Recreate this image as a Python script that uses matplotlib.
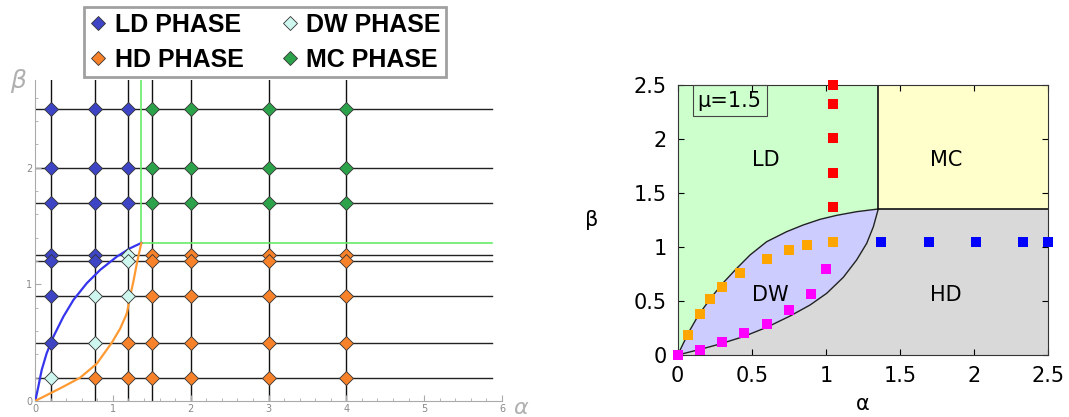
import matplotlib
matplotlib.use('Agg')
import matplotlib.pyplot as plt
from matplotlib.lines import Line2D

plt.rcParams['font.family'] = 'DejaVu Sans'

# ---- left panel: simulation grid ----
alphas = [0.2, 0.77, 1.2, 1.5, 2, 3, 4]
betas = [2.5, 2.0, 1.7, 1.25, 1.2, 0.9, 0.5, 0.2]
# phase of each grid point, one row per beta
phases = [
    ['LD', 'LD', 'LD', 'MC', 'MC', 'MC', 'MC'],
    ['LD', 'LD', 'LD', 'MC', 'MC', 'MC', 'MC'],
    ['LD', 'LD', 'LD', 'MC', 'MC', 'MC', 'MC'],
    ['LD', 'LD', 'DW', 'HD', 'HD', 'HD', 'HD'],
    ['LD', 'LD', 'DW', 'HD', 'HD', 'HD', 'HD'],
    ['LD', 'DW', 'DW', 'HD', 'HD', 'HD', 'HD'],
    ['LD', 'DW', 'HD', 'HD', 'HD', 'HD', 'HD'],
    ['DW', 'HD', 'HD', 'HD', 'HD', 'HD', 'HD'],
]
phase_colors = {'LD': '#3d45c4', 'DW': '#cdf7ef', 'HD': '#f7822a', 'MC': '#2ca24a'}

blue_x = [0, 0.013, 0.043, 0.086, 0.15, 0.236, 0.365, 0.494, 0.665, 0.837, 1.052, 1.223, 1.366]
blue_y = [0, 0.03, 0.123, 0.266, 0.409, 0.551, 0.723, 0.866, 1.009, 1.123, 1.237, 1.309, 1.354]
orange_x = [0, 0.15, 0.365, 0.58, 0.794, 0.987, 1.094, 1.18, 1.223, 1.266, 1.309, 1.366]
orange_y = [0, 0.05, 0.123, 0.2, 0.32, 0.5, 0.62, 0.75, 0.9, 1.03, 1.18, 1.354]
triple_a, triple_b = 1.366, 1.354

# ---- right panel: mean-field phase diagram (mu = 1.5) ----
up_x = [0, 0.038, 0.083, 0.128, 0.173, 0.24, 0.308, 0.398, 0.488, 0.6, 0.735, 0.847, 0.96, 1.072, 1.207, 1.353]
up_y = [0, 0.108, 0.232, 0.34, 0.432, 0.556, 0.67, 0.802, 0.926, 1.049, 1.142, 1.204, 1.256, 1.293, 1.327, 1.352]
lo_x = [0, 0.151, 0.286, 0.443, 0.6, 0.758, 0.893, 1.005, 1.117, 1.207, 1.275, 1.32, 1.353]
lo_y = [0, 0.052, 0.102, 0.17, 0.256, 0.361, 0.463, 0.571, 0.719, 0.88, 1.034, 1.188, 1.352]
tp = 1.352

orange_sq_x = [0.067, 0.15, 0.22, 0.30, 0.42, 0.60, 0.75, 0.87, 1.048]
orange_sq_y = [0.185, 0.38, 0.515, 0.63, 0.756, 0.886, 0.97, 1.02, 1.046]
mag_sq_x = [0, 0.15, 0.30, 0.45, 0.60, 0.75, 0.90, 1.0]
mag_sq_y = [0, 0.05, 0.12, 0.20, 0.29, 0.417, 0.568, 0.796]
red_sq_x = [1.048, 1.048, 1.048, 1.048, 1.048]
red_sq_y = [1.37, 1.685, 2.006, 2.327, 2.5]
blue_sq_x = [1.371, 1.693, 2.01, 2.33, 2.5]
blue_sq_y = [1.046, 1.046, 1.046, 1.046, 1.046]

W, H = 1069, 417
fig = plt.figure(figsize=(W / 100, H / 100), dpi=100)

# ================= left =================
ax1 = fig.add_axes([35 / W, 16 / H, 467 / W, 321 / H])
ax1.set_xlim(0, 6)
ax1.set_ylim(0, 2.75)
for b in betas:
    ax1.plot([0, 5.87], [b, b], color='#222222', lw=1, zorder=1)
for a in alphas:
    ax1.plot([a, a], [0, 2.75], color='#111111', lw=1, zorder=1)
ax1.plot([triple_a, triple_a], [triple_b, 2.75], color='#66ee66', lw=1.2, zorder=2)
ax1.plot([triple_a, 5.87], [triple_b, triple_b], color='#66ee66', lw=1.2, zorder=2)
ax1.plot(blue_x, blue_y, color='#3535ee', lw=1.6, zorder=3)
ax1.plot(orange_x, orange_y, color='#ff9a33', lw=1.6, zorder=3)
for i, b in enumerate(betas):
    for j, a in enumerate(alphas):
        ax1.plot(a, b, marker='D', ms=7.5, color=phase_colors[phases[i][j]],
                 mec='#333333', mew=0.6, zorder=4, clip_on=False)

for s in ['top', 'right']:
    ax1.spines[s].set_visible(False)
for s in ['left', 'bottom']:
    ax1.spines[s].set_color('#aaaaaa')
ax1.set_xticks(range(7))
ax1.set_yticks([0, 1, 2])
ax1.set_xticks([i * 0.2 for i in range(31)], minor=True)
ax1.set_yticks([i * 0.2 for i in range(14)], minor=True)
ax1.tick_params(which='both', direction='in', colors='#aaaaaa', labelcolor='#888888',
                labelsize=7, length=4, pad=2)
ax1.tick_params(which='minor', length=2)
fig.text(18 / W, 1 - 81 / H, 'β', fontsize=18, color='#b0b0b0', style='italic',
         ha='center', va='center')
fig.text(521 / W, 1 - 408 / H, 'α', fontsize=16, color='#b0b0b0', style='italic',
         ha='center', va='center')

handles = [Line2D([], [], marker='D', ls='none', ms=7, color=phase_colors[p],
                  mec='#333333', mew=0.6) for p in ['LD', 'HD', 'DW', 'MC']]
labels = ['LD PHASE', 'HD PHASE', 'DW PHASE', 'MC PHASE']
leg = fig.legend(handles, labels, ncol=2, loc='upper center',
                 bbox_to_anchor=(265 / W, 1 - 7 / H), frameon=True, fancybox=False,
                 prop={'family': 'Liberation Sans', 'weight': 'bold', 'size': 18},
                 handlelength=0.7, handletextpad=0.3, columnspacing=1.5,
                 labelspacing=0.45, borderpad=0.22, borderaxespad=0)
leg.get_frame().set_edgecolor('#888888')
leg.get_frame().set_linewidth(2)

# ================= right =================
ax2 = fig.add_axes([677.7 / W, 62 / H, 370.6 / W, 270 / H])
ax2.set_xlim(0, 2.5)
ax2.set_ylim(0, 2.5)
ax2.fill([0] + up_x + [tp, 0], [0] + up_y + [2.5, 2.5], color='#ccffcc', lw=0)
ax2.fill([tp, 2.5, 2.5, tp], [tp, tp, 2.5, 2.5], color='#ffffcc', lw=0)
ax2.fill(lo_x + [2.5, 2.5], lo_y + [tp, 0], color='#d9d9d9', lw=0)
ax2.fill(up_x + lo_x[::-1], up_y + lo_y[::-1], color='#ccccff', lw=0)
ax2.plot(up_x, up_y, color='#222222', lw=1)
ax2.plot(lo_x, lo_y, color='#222222', lw=1)
ax2.plot([tp, tp], [tp, 2.5], color='#111111', lw=1.2)
ax2.plot([tp, 2.5], [tp, tp], color='#111111', lw=1.2)

sq = dict(marker='s', ls='none', ms=7, mew=0, clip_on=False, zorder=5)
ax2.plot(orange_sq_x, orange_sq_y, color='#ffa500', **sq)
ax2.plot(mag_sq_x, mag_sq_y, color='#ff00ff', **sq)
ax2.plot(red_sq_x, red_sq_y, color='#ff0000', **sq)
ax2.plot(blue_sq_x, blue_sq_y, color='#0000ff', **sq)

for txt, x, y in [('LD', 0.594, 1.81), ('MC', 1.81, 1.81), ('DW', 0.627, 0.556), ('HD', 1.81, 0.556)]:
    ax2.text(x, y, txt, fontsize=15, ha='center', va='center')
ax2.text(0.135, 2.355, 'μ=1.5', fontsize=15, ha='left', va='center',
         bbox=dict(boxstyle='square,pad=0.25', fc='none', ec='#444444', lw=0.8))

ax2.set_xticks([0, 0.5, 1, 1.5, 2, 2.5])
ax2.set_xticklabels(['0', '0.5', '1', '1.5', '2', '2.5'])
ax2.set_yticks([0, 0.5, 1, 1.5, 2, 2.5])
ax2.set_yticklabels(['0', '0.5', '1', '1.5', '2', '2.5'])
ax2.tick_params(direction='in', top=True, right=True, labelsize=15, length=4, pad=8)
for s in ax2.spines.values():
    s.set_color('#333333')
ax2.set_xlabel('α', fontsize=15, labelpad=6)
ax2.set_ylabel('β', fontsize=15, rotation=0, labelpad=30, va='center')

fig.savefig('out.png', dpi=100)
